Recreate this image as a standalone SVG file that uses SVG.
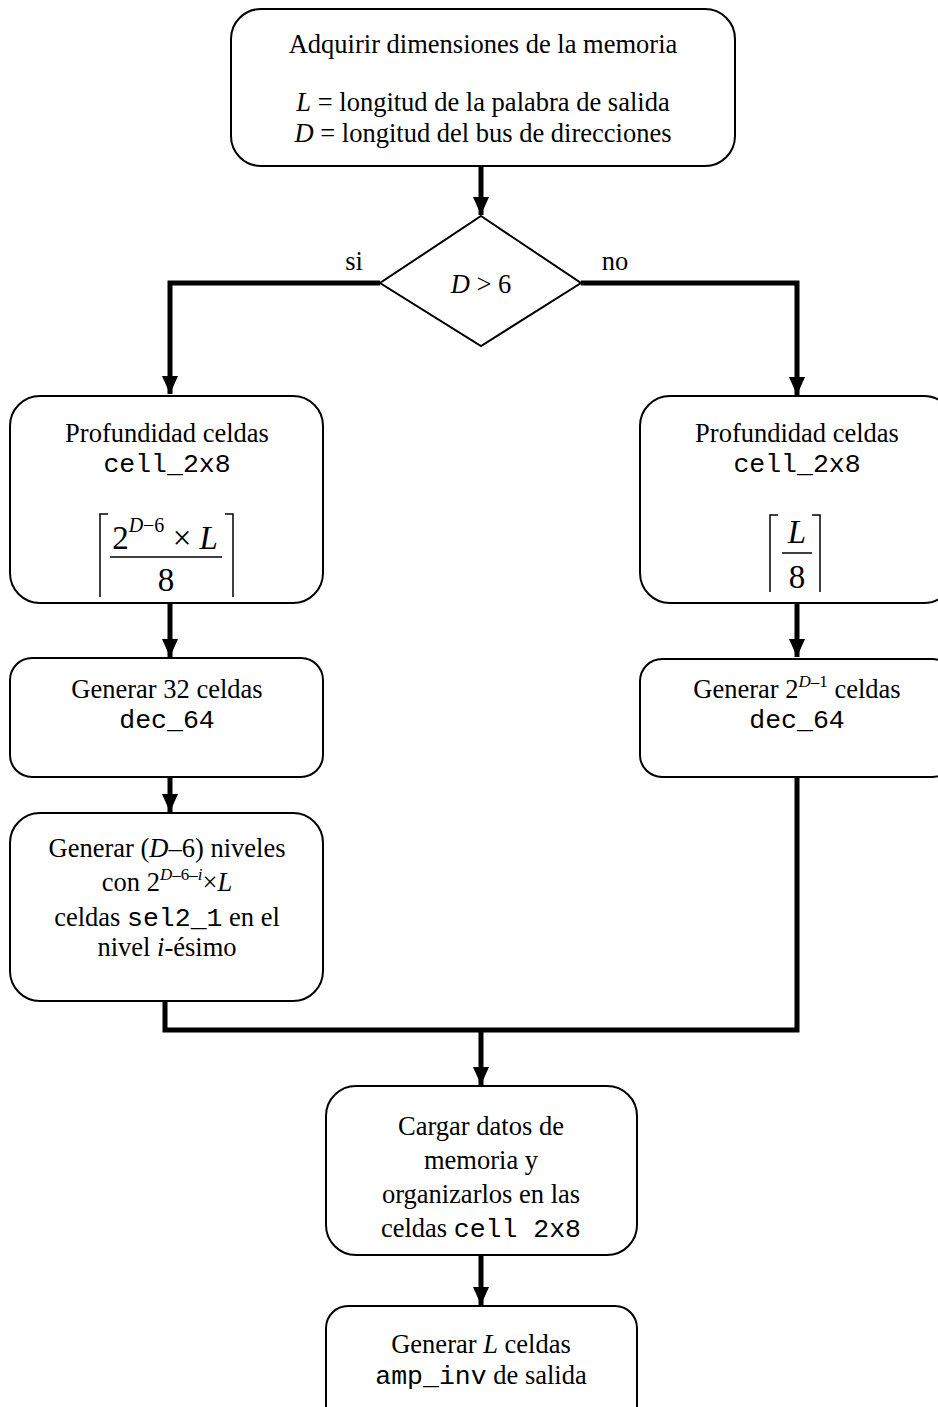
<svg xmlns="http://www.w3.org/2000/svg" width="938" height="1407" viewBox="0 0 938 1407">
  <style>
    .box { fill: #fff; stroke: #000; stroke-width: 2; }
    .t { font-family: "Liberation Serif", "Times New Roman", serif; font-size: 26.5px; fill: #000; text-anchor: middle; }
    .m { font-family: "Liberation Mono", "Courier New", monospace; font-size: 26.5px; }
    .i { font-style: italic; }
    .sup { font-size: 17px; }
    .math { font-family: "Liberation Serif", "Times New Roman", serif; font-size: 33px; fill: #000; text-anchor: middle; }
    .wire { fill: none; stroke: #000; stroke-width: 5; stroke-linejoin: miter; }
    .thin { fill: none; stroke: #000; stroke-width: 1.5; }
  </style>
  <defs>
    <marker id="arrow" markerWidth="4" markerHeight="4" refX="3.6" refY="2" orient="auto" markerUnits="strokeWidth">
      <path d="M0,0.4 L3.6,2 L0,3.6 z" fill="#000"/>
    </marker>
  </defs>
  <rect width="938" height="1407" fill="#fff"/>

  <!-- connectors -->
  <g id="connectors">
    <path class="wire" d="M481,167 V215" marker-end="url(#arrow)"/>
    <path class="wire" d="M380,283 H170 V394" marker-end="url(#arrow)"/>
    <path class="wire" d="M581,283 H797 V395" marker-end="url(#arrow)"/>
    <path class="wire" d="M170,603 V657" marker-end="url(#arrow)"/>
    <path class="wire" d="M797,603 V657" marker-end="url(#arrow)"/>
    <path class="wire" d="M170,777 V812" marker-end="url(#arrow)"/>
    <path class="wire" d="M165,1000 V1030 H797 V777"/>
    <path class="wire" d="M481,1030 V1085" marker-end="url(#arrow)"/>
    <path class="wire" d="M481,1255 V1305" marker-end="url(#arrow)"/>
    <text class="t" x="354" y="270">si</text>
    <text class="t" x="615" y="270">no</text>
  </g>

  <!-- start: memory dimensions -->
  <g id="n_start">
    <rect class="box" x="231" y="9" width="504" height="157" rx="30"/>
    <text class="t" x="483" y="53">Adquirir dimensiones de la memoria</text>
    <text class="t" x="483" y="111"><tspan class="i">L</tspan> = longitud de la palabra de salida</text>
    <text class="t" x="483" y="142"><tspan class="i">D</tspan> = longitud del bus de direcciones</text>
  </g>

  <!-- decision -->
  <g id="n_decision">
    <path class="box" d="M481,216 L581,283 L481,346 L380,283 Z"/>
    <text class="t" x="481" y="293"><tspan class="i">D</tspan> &gt; 6</text>
  </g>

  <!-- left branch -->
  <g id="n_depth_left">
    <rect class="box" x="10" y="396" width="313" height="207" rx="30"/>
    <text class="t" x="167" y="442">Profundidad celdas</text>
    <text class="t m" x="167" y="472">cell_2x8</text>
    <text class="math" x="165" y="549">2<tspan class="i" font-size="20" dy="-17">D</tspan><tspan font-size="20">−6</tspan><tspan dy="17"> × </tspan><tspan class="i">L</tspan></text>
    <line class="thin" x1="110" y1="557" x2="222" y2="557"/>
    <text class="math" x="166" y="591">8</text>
    <path class="thin" d="M108,514 H100 V597 M225,514 H233 V597"/>
  </g>

  <g id="n_dec_left">
    <rect class="box" x="10" y="658" width="313" height="119" rx="22"/>
    <text class="t" x="167" y="698">Generar 32 celdas</text>
    <text class="t m" x="167" y="728">dec_64</text>
  </g>

  <g id="n_levels">
    <rect class="box" x="10" y="813" width="313" height="188" rx="30"/>
    <text class="t" x="167" y="857">Generar (<tspan class="i">D</tspan>–6) niveles</text>
    <text class="t" x="167" y="891">con 2<tspan class="sup" dy="-11"><tspan class="i">D</tspan>–6–<tspan class="i">i</tspan></tspan><tspan dy="11">×</tspan><tspan class="i">L</tspan></text>
    <text class="t" x="167" y="926">celdas <tspan class="m">sel2_1</tspan> en el</text>
    <text class="t" x="167" y="956">nivel <tspan class="i">i</tspan>-ésimo</text>
  </g>

  <!-- right branch -->
  <g id="n_depth_right">
    <rect class="box" x="640" y="396" width="314" height="207" rx="30"/>
    <text class="t" x="797" y="442">Profundidad celdas</text>
    <text class="t m" x="797" y="472">cell_2x8</text>
    <text class="math i" x="797" y="543">L</text>
    <line class="thin" x1="782" y1="553" x2="812" y2="553"/>
    <text class="math" x="797" y="588">8</text>
    <path class="thin" d="M778,515 H770 V592 M812,515 H820 V592"/>
  </g>

  <g id="n_dec_right">
    <rect class="box" x="640" y="659" width="314" height="118" rx="22"/>
    <text class="t" x="797" y="698">Generar 2<tspan class="sup" dy="-11"><tspan class="i">D</tspan>–1</tspan><tspan dy="11"> celdas</tspan></text>
    <text class="t m" x="797" y="728">dec_64</text>
  </g>

  <!-- merge -->
  <g id="n_load">
    <rect class="box" x="326" y="1086" width="311" height="169" rx="30"/>
    <text class="t" x="481" y="1135">Cargar datos de</text>
    <text class="t" x="481" y="1169">memoria y</text>
    <text class="t" x="481" y="1203">organizarlos en las</text>
    <text class="t" x="481" y="1237">celdas <tspan class="m">cell 2x8</tspan></text>
  </g>

  <g id="n_output">
    <rect class="box" x="326" y="1306" width="311" height="130" rx="22"/>
    <text class="t" x="481" y="1353">Generar <tspan class="i">L</tspan> celdas</text>
    <text class="t" x="481" y="1384"><tspan class="m">amp_inv</tspan> de salida</text>
  </g>
</svg>
